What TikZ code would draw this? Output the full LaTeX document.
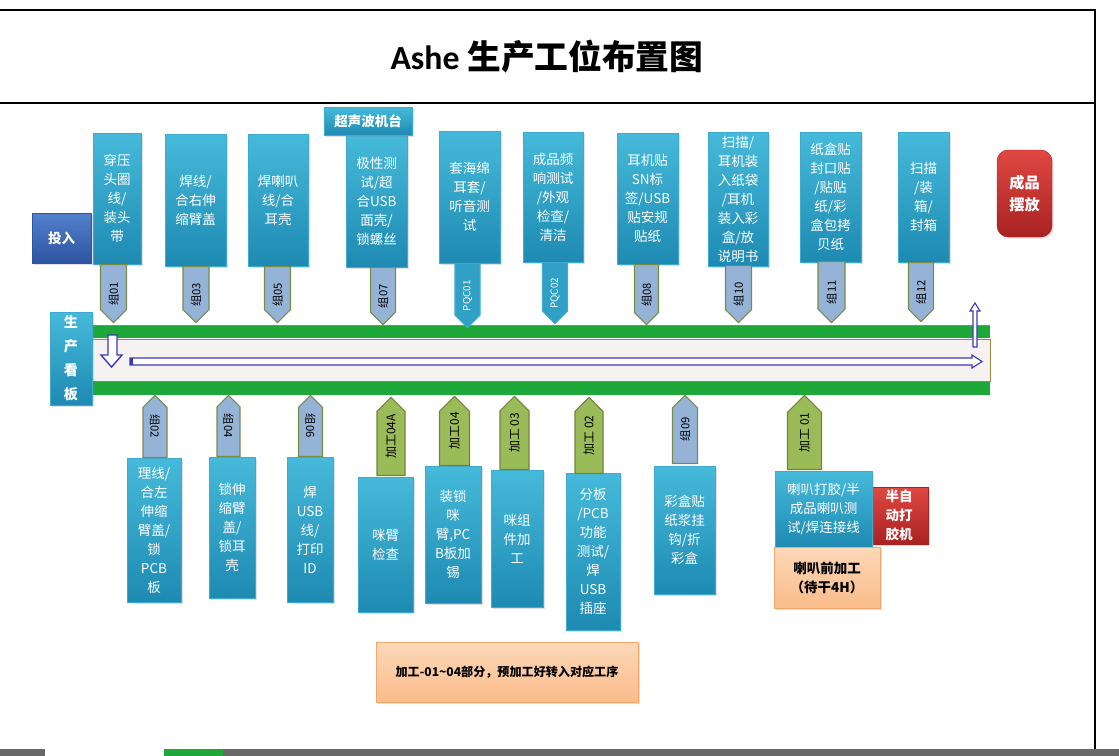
\documentclass[tikz,border=0pt]{standalone}
\usepackage{fontspec}
\setmainfont{Noto Sans CJK SC}
\newfontfamily\titlelatin{Carlito}
\usetikzlibrary{shapes.symbols,shadows,calc}

\definecolor{tealtop}{RGB}{70,186,218}
\definecolor{tealbot}{RGB}{30,138,178}
\definecolor{tealmid}{RGB}{48,160,198}
\definecolor{tealedge}{RGB}{62,170,205}
\definecolor{tagblue}{RGB}{149,179,215}
\definecolor{tagedge}{RGB}{118,140,72}
\definecolor{procgreen}{RGB}{155,187,89}
\definecolor{procedge}{RGB}{110,134,60}
\definecolor{beltgreen}{RGB}{30,168,58}
\definecolor{beltedge}{RGB}{152,136,62}
\definecolor{beltlight}{RGB}{245,242,241}
\definecolor{arrowblue}{RGB}{58,58,185}
\definecolor{redtop}{RGB}{224,72,66}
\definecolor{redbot}{RGB}{168,34,34}
\definecolor{bluetop}{RGB}{82,128,204}
\definecolor{bluebot}{RGB}{44,84,160}
\definecolor{peachtop}{RGB}{252,216,184}
\definecolor{peachbot}{RGB}{250,188,138}
\definecolor{peachedge}{RGB}{240,168,108}
\definecolor{tabbar}{RGB}{104,104,104}

\newcommand\stationfont{\fontsize{9.6}{13.5}\selectfont}
\newcommand\tagfont{\fontsize{8}{8}\selectfont}
\newcommand\proctagfont{\fontsize{8.5}{9}\selectfont}
\newcommand\qcfont{\fontsize{7}{7}\selectfont}

\begin{document}
\begin{tikzpicture}[x=0.025cm, y=-0.025cm,
  dims/.style 2 args={minimum width=#1*0.025cm, minimum height=#2*0.025cm},
  station/.style={draw=tealedge, line width=0.3pt, top color=tealtop, bottom color=tealbot,
    text=white, align=center, font=\stationfont, inner sep=0pt,
    drop shadow={shadow xshift=1.2pt, shadow yshift=-1.2pt, opacity=0.25}},
  redbox/.style={station, draw=redbot, top color=redtop, bottom color=redbot, font=\stationfont\bfseries},
  peachbox/.style={station, draw=peachedge, top color=peachtop, bottom color=peachbot, text=black, font=\stationfont\bfseries},
  tagbase/.style={shape=signal, line width=0.8pt, inner sep=0pt},
  grouptag/.style={tagbase, draw=tagedge, fill=tagblue},
  proctag/.style={tagbase, draw=procedge, fill=procgreen},
  qctag/.style={tagbase, draw=tealedge, fill=tealmid},
  tagtext/.style={inner sep=0pt, font=\tagfont}]
  \useasboundingbox (0,0) rectangle (1119,756);

  % frame of the sheet
  \draw[line width=0.8pt] (0,10) -- (1095,10) -- (1095,749);
  \draw[line width=0.8pt] (0,103) -- (1095,103);
  \fill[tabbar] (0,749) rectangle (1119,756);
  \fill[white] (45,749) rectangle (164,756);
  \fill[beltgreen] (164,749) rectangle (223,756);
  \node[font=\fontsize{24}{28}\selectfont\bfseries] (title) at (547,57) {{\titlelatin Ashe} 生产工位布置图};

  % conveyor line
  \fill[beltgreen] (92,325) rectangle (990,338);
  \draw[beltedge, line width=0.5pt] (92,325.5) -- (990,325.5);
  \filldraw[fill=beltlight, draw=beltedge, line width=0.6pt] (92,339) rectangle (990,381);
  \fill[beltgreen] (92,382) rectangle (990,395);
  \filldraw[fill=white, draw=arrowblue, line width=1pt]
    (108,335) -- (117,335) -- (117,355) -- (122,355) -- (111.5,367) -- (101,355) -- (108,355) -- cycle;
  \filldraw[fill=white, draw=arrowblue, line width=0.8pt]
    (130,358) -- (972,358) -- (972,355) -- (982,361.5) -- (972,368) -- (972,365) -- (130,365) -- cycle;
  \fill[arrowblue] (130,358) rectangle (133,365);
  \filldraw[fill=white, draw=arrowblue, line width=0.8pt]
    (973,347) -- (977,347) -- (977,311) -- (980,311) -- (975,303) -- (970,311) -- (973,311) -- cycle;
  \node[station, dims={42}{93}, font=\fontsize{10}{17}\selectfont\bfseries] (board) at (71,358.5) {生\\产\\看\\板};

  % upper stations
  \node[station, dims={59}{50}, draw=bluebot, top color=bluetop, bottom color=bluebot, font=\stationfont\bfseries] (input) at (61.5,238) {投入};
  \node[station, dims={48}{131}] (st01) at (117,198.5) {穿压\\头圈\\线/\\装头\\带};
  \node[station, dims={61}{132}] (st03) at (195.5,200) {焊线/\\合右伸\\缩臂盖};
  \node[station, dims={60}{132}] (st05) at (278,200) {焊喇叭\\线/合\\耳壳};
  \node[station, dims={61}{132}] (st07) at (376.5,201) {极性测\\试/超\\合USB\\面壳/\\锁螺丝};
  \node[station, dims={88}{28}, font=\stationfont\bfseries] (sonic) at (368,121) {超声波机台};
  \node[station, dims={61}{132}] (stqc1) at (469.5,197) {套海绵\\耳套/\\听音测\\试};
  \node[station, dims={60}{130}] (stqc2) at (553,197) {成品频\\响测试\\/外观\\检查/\\清洁};
  \node[station, dims={61}{131}] (st08) at (647.5,198.5) {耳机贴\\SN标\\签/USB\\贴安规\\贴纸};
  \node[station, dims={60}{134}] (st10) at (738,199) {扫描/\\耳机装\\入纸袋\\/耳机\\装入彩\\盒/放\\说明书};
  \node[station, dims={61}{130}] (st11) at (830.5,197) {纸盒贴\\封口贴\\/贴贴\\纸/彩\\盒包拷\\贝纸};
  \node[station, dims={51}{130}] (st12) at (923.5,197) {扫描\\/装\\箱/\\封箱};
  \node[redbox, dims={55}{87}, rounded corners=8pt, font=\fontsize{10.8}{16}\selectfont\bfseries] (done) at (1024.5,193.5) {成品\\摆放};

  % tags hang from the station bottoms (x, top edge, length, width)
  \foreach \nm/\cx/\ty/\len/\tw/\txt in {g01/113.5/264/58/26/组01, g03/196/266/56/26/组03,
      g05/277.5/266/56/26/组05, g07/383/267/57/25/组07, g08/646.5/264/60/24/组08,
      g10/738.5/265/57/26/组10, g11/831.5/261/61/27/组11, g12/921/262/59/25/组12}{
    \node[grouptag, signal to=west, rotate=90, anchor=east, dims={\len}{\tw}] (\nm) at (\cx,\ty) {};
    \node[tagtext, rotate=90] at ($(\nm.east)!0.5!(\nm.west)$) {\txt};
  }
  \foreach \nm/\cx/\ty/\len/\txt in {qc01/467.5/263/64/PQC01, qc02/555/262/61/PQC02}{
    \node[qctag, signal to=west, rotate=90, anchor=east, dims={\len}{25}] (\nm) at (\cx,\ty) {};
    \node[tagtext, rotate=90, text=white, font=\qcfont] at ($(\nm.east)!0.5!(\nm.west)$) {\txt};
  }

  % lower stations
  \node[station, dims={54}{144}] (st02) at (154,530) {理线/\\合左\\伸缩\\臂盖/\\锁\\PCB\\板};
  \node[station, dims={46}{141}] (st04) at (232,527.5) {锁伸\\缩臂\\盖/\\锁耳\\壳};
  \node[station, dims={46}{145}] (st06) at (310,529.5) {焊\\USB\\线/\\打印\\ID};
  \node[station, dims={55}{135}] (stp4a) at (385.5,544.5) {咪臂\\检查};
  \node[station, dims={56}{137}] (stp4) at (453,534.5) {装锁\\咪\\臂,PC\\B板加\\锡};
  \node[station, dims={52}{137}] (stp3) at (517,538.5) {咪组\\件加\\工};
  \node[station, dims={54}{157}] (stp2) at (593,551.5) {分板\\/PCB\\功能\\测试/\\焊\\USB\\插座};
  \node[station, dims={61}{128}] (st09) at (684.5,530) {彩盒贴\\纸浆挂\\钩/折\\彩盒};
  \node[redbox, dims={58}{57}] (gluer) at (899,515.5) {半自\\动打\\胶机};
  \node[station, dims={97}{76}] (stp1) at (823.5,509) {喇叭打胶/半\\成品喇叭测\\试/焊连接线};
  \node[peachbox, dims={106}{61}] (predry) at (827,577.5) {喇叭前加工\\（待干4H）};
  \node[peachbox, dims={262}{60}, font=\fontsize{8.6}{10}\selectfont\bfseries] (note) at (507,672)
    {加工-01\textasciitilde04部分，预加工好转入对应工序};

  % tags standing on the station tops (x, bottom edge, length, width)
  \foreach \nm/\cx/\by/\len/\tw/\txt in {g02/155/458/62/24/组02, g04/228.5/457/61/23/组04, g06/310.5/457/61/24/组06}{
    \node[grouptag, signal to=west, rotate=-90, anchor=east, dims={\len}{\tw}] (\nm) at (\cx,\by) {};
    \node[tagtext, rotate=-90] at ($(\nm.east)!0.5!(\nm.west)$) {\txt};
  }
  \node[grouptag, signal to=east, rotate=90, anchor=west, dims={68}{25}] (g09) at (685,464) {};
  \node[tagtext, rotate=90] at ($(g09.east)!0.5!(g09.west)$) {组09};
  \foreach \nm/\cx/\by/\len/\tw/\txt in {p4a/391/476/78/28/加工04A, p4/454.5/466/69/30/加工04,
      p3/514.5/470/73/29/加工 03, p2/589/474/76/28/加工 02, p1/804.5/470/74/34/加工 01}{
    \node[proctag, signal to=east, rotate=90, anchor=west, dims={\len}{\tw}] (\nm) at (\cx,\by) {};
    \node[tagtext, rotate=90, font=\proctagfont] at ($(\nm.east)!0.5!(\nm.west)$) {\txt};
  }
\end{tikzpicture}
\end{document}
